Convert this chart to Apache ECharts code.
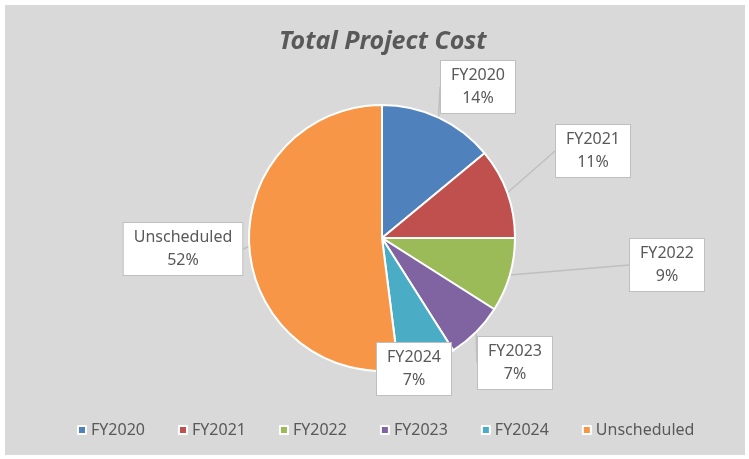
<!DOCTYPE html>
<html>
<head>
<meta charset="utf-8">
<script src="https://cdn.jsdelivr.net/npm/echarts@6/dist/echarts.min.js"></script>
<style>
    html, body { margin: 0; padding: 0; background: #fff; }
    #cost_pie { position: absolute; left: 5px; top: 5px; width: 740px; height: 450px; background: #d9d9d9; }
</style>
</head>
<body>
<div id="cost_pie"></div>
<script>
const categories = ['FY2020', 'FY2021', 'FY2022', 'FY2023', 'FY2024', 'Unscheduled'];
const shares = [14, 11, 9, 7, 7, 52];
const colors = ['#4f81bd', '#c0504d', '#9bbb59', '#8064a2', '#4bacc6', '#f79646'];

// callout box centres (chart px)
const labelPos = [[473, 82], [588, 146], [662, 260], [510, 358], [409, 364], [178, 244]];

const option = {
    color: colors,
    title: {
        text: 'Total Project Cost',
        left: 269,
        top: 19,
        textStyle: {
            fontFamily: 'Noto Sans',
            fontSize: 25,
            fontWeight: 'bold',
            fontStyle: 'italic',
            color: '#595959'
        }
    },
    legend: {
        bottom: 12,
        left: 67,
        icon: 'rect',
        itemWidth: 8,
        itemHeight: 8,
        itemGap: 33,
        textStyle: {
            fontFamily: 'Noto Sans',
            fontSize: 16,
            color: '#595959'
        },
        data: categories
    },
    series: [
        {
            name: 'Total Project Cost',
            type: 'pie',
            center: [377, 233],
            radius: 133,
            startAngle: 90,
            clockwise: true,
            percentPrecision: 0,
            animation: false,
            itemStyle: {
                borderColor: '#fff',
                borderWidth: 2
            },
            label: {
                show: true,
                position: 'outside',
                formatter: '{b}\n{d}%',
                fontFamily: 'Noto Sans',
                fontSize: 16,
                lineHeight: 23,
                color: '#595959',
                align: 'center',
                backgroundColor: '#fff',
                borderColor: '#bfbfbf',
                borderWidth: 1,
                padding: [3, 10]
            },
            labelLine: {
                show: true,
                length: 0,
                length2: 0,
                lineStyle: { color: '#bfbfbf', width: 1.5 }
            },
            labelLayout: function (params) {
                const p = labelPos[params.dataIndex];
                return {
                    x: p[0],
                    y: p[1],
                    align: 'center',
                    verticalAlign: 'middle'
                };
            },
            data: categories.map((name, i) => ({name: name, value: shares[i]}))
        }
    ]
};

const costPie = echarts.init(document.getElementById('cost_pie'));
costPie.setOption(option);

window.addEventListener('resize', function () {
    costPie.resize();
});
</script>
</body>
</html>
